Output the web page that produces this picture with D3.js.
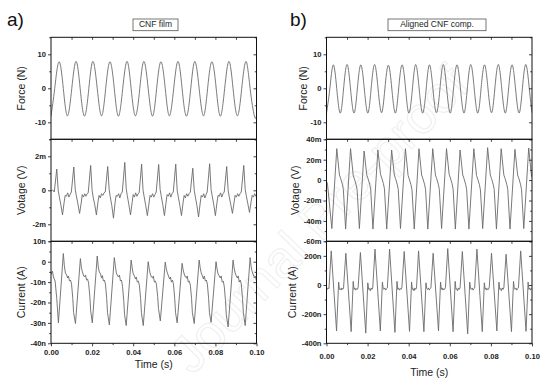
<!DOCTYPE html>
<html><head><meta charset="utf-8">
<script src="https://cdn.jsdelivr.net/npm/d3@7"></script>
<style>html,body{margin:0;padding:0;background:#fff;}svg{display:block;font-family:"Liberation Sans",Arial,sans-serif;}</style>
</head><body><svg id="c" width="554" height="383"></svg>
<script>
// ---------------- DATA ----------------
const panelTitles = ["CNF film", "Aligned CNF comp."];
const panelLetters = ["a)", "b)"];
const yLabels = ["Force (N)", "Votage (V)", "Current (A)"];
const xLabel = "Time (s)";
const xTickLabels = [0, 0.02, 0.04, 0.06, 0.08, 0.10];

// left column (CNF film)
const forceA = [[0,-8.1],[0.0018,-0.1],[0.0039,7.8],[0.0060,-0.1],[0.0080,-8.1],[0.0101,-0.1],[0.0122,7.9],[0.0142,-0.1],[0.0163,-8.2],[0.0184,-0.1],[0.0204,7.9],[0.0225,-0.1],[0.0246,-8.1],[0.0266,-0.1],[0.0287,7.8],[0.0308,-0.1],[0.0328,-8.2],[0.0349,-0.1],[0.0370,7.9],[0.0390,-0.1],[0.0411,-8.1],[0.0432,-0.1],[0.0452,7.9],[0.0473,-0.1],[0.0494,-8.2],[0.0514,-0.1],[0.0535,7.8],[0.0556,-0.1],[0.0576,-8.1],[0.0597,-0.1],[0.0618,7.9],[0.0638,-0.1],[0.0659,-8.2],[0.0680,-0.1],[0.0700,7.9],[0.0721,-0.1],[0.0742,-8.1],[0.0762,-0.1],[0.0783,7.8],[0.0804,-0.1],[0.0824,-8.2],[0.0845,-0.1],[0.0866,7.9],[0.0886,-0.1],[0.0907,-8.1],[0.0928,-0.1],[0.0949,7.9],[0.0969,-0.1],[0.0990,-8.2],[0.1,-8.0]];
// voltage in mV
const voltA = [[0,-0.05],[0.0008,0.02],[0.0016,-0.1],
[0.0028,1.25],[0.0035,0.0],[0.0040,-0.35],[0.0048,-0.85],[0.0056,-1.45],[0.0064,-0.7],[0.0069,-0.3],[0.0075,-0.35],[0.0081,-0.15],[0.0087,-0.4],[0.0093,-0.25],
[0.0099,-0.1],[0.0111,1.37],[0.0118,0.05],[0.0123,-0.3],[0.0131,-0.8],[0.0139,-1.36],[0.0147,-0.75],[0.0152,-0.25],[0.0158,-0.4],[0.0164,-0.2],[0.0170,-0.35],[0.0176,-0.2],
[0.0181,-0.15],[0.0193,1.46],[0.0200,0.0],[0.0205,-0.4],[0.0213,-0.85],[0.0221,-1.45],[0.0229,-0.65],[0.0234,-0.3],[0.0240,-0.45],[0.0246,-0.2],[0.0252,-0.3],[0.0258,-0.15],
[0.0264,-0.1],[0.0276,1.40],[0.0283,0.05],[0.0288,-0.35],[0.0296,-0.9],[0.0304,-1.64],[0.0312,-0.7],[0.0317,-0.3],[0.0323,-0.35],[0.0329,-0.2],[0.0335,-0.45],[0.0341,-0.2],
[0.0347,-0.1],[0.0359,1.64],[0.0366,0.1],[0.0371,-0.3],[0.0379,-0.85],[0.0387,-1.45],[0.0395,-0.7],[0.0400,-0.25],[0.0406,-0.4],[0.0412,-0.15],[0.0418,-0.35],[0.0424,-0.2],
[0.0429,-0.15],[0.0441,1.54],[0.0448,0.0],[0.0453,-0.35],[0.0461,-0.9],[0.0469,-1.49],[0.0477,-0.75],[0.0482,-0.3],[0.0488,-0.4],[0.0494,-0.2],[0.0500,-0.4],[0.0506,-0.25],
[0.0512,-0.1],[0.0524,1.52],[0.0531,0.05],[0.0536,-0.3],[0.0544,-0.85],[0.0552,-1.49],[0.0560,-0.7],[0.0565,-0.25],[0.0571,-0.35],[0.0577,-0.15],[0.0583,-0.4],[0.0589,-0.2],
[0.0595,-0.1],[0.0607,1.54],[0.0614,0.0],[0.0619,-0.35],[0.0627,-0.9],[0.0635,-1.49],[0.0643,-0.7],[0.0648,-0.3],[0.0654,-0.45],[0.0660,-0.2],[0.0666,-0.35],[0.0672,-0.2],
[0.0678,-0.1],[0.0690,1.30],[0.0697,0.0],[0.0702,-0.35],[0.0710,-0.9],[0.0718,-1.57],[0.0726,-0.75],[0.0731,-0.3],[0.0737,-0.4],[0.0743,-0.2],[0.0749,-0.45],[0.0755,-0.25],
[0.0760,-0.1],[0.0772,1.56],[0.0779,0.05],[0.0784,-0.3],[0.0792,-0.85],[0.0800,-1.49],[0.0808,-0.7],[0.0813,-0.3],[0.0819,-0.35],[0.0825,-0.15],[0.0831,-0.4],[0.0837,-0.2],
[0.0843,-0.1],[0.0855,1.40],[0.0862,0.0],[0.0867,-0.35],[0.0875,-0.85],[0.0883,-1.36],[0.0891,-0.7],[0.0896,-0.3],[0.0902,-0.4],[0.0908,-0.2],[0.0914,-0.35],[0.0920,-0.2],
[0.0926,-0.1],[0.0938,1.46],[0.0945,0.05],[0.0950,-0.3],[0.0958,-0.8],[0.0966,-1.30],[0.0974,-0.65],[0.0979,-0.3],[0.0985,-0.4],[0.0991,-0.2],[0.0997,-0.35],[0.1,-0.3]];
// current in nA
const currA = [[0,-6.2],[0.0007,-4.6],[0.0012,-7.5],[0.0020,-9.5],[0.0028,-18],[0.0036,-30],
[0.0060,4.0],[0.0065,-2],[0.0070,-5.5],[0.0076,-6.5],[0.0081,-8],[0.0085,-7],[0.0090,-9.5],[0.0095,-9],[0.0100,-11],[0.0106,-18],[0.0110,-25],[0.0119,-30.3],
[0.0143,1.5],[0.0148,-3],[0.0153,-5],[0.0159,-7],[0.0164,-7.5],[0.0168,-6.5],[0.0173,-9],[0.0178,-8.5],[0.0183,-10.5],[0.0189,-17],[0.0193,-24],[0.0201,-30],
[0.0225,2.8],[0.0230,-2.5],[0.0235,-5],[0.0241,-6],[0.0246,-8],[0.0250,-6.8],[0.0255,-9.5],[0.0260,-9],[0.0265,-11],[0.0271,-18],[0.0275,-25],[0.0284,-31],
[0.0308,2.0],[0.0313,-2],[0.0318,-5.5],[0.0324,-7],[0.0329,-7.5],[0.0333,-6.5],[0.0338,-9.5],[0.0343,-9],[0.0348,-12],[0.0354,-19],[0.0358,-26],[0.0366,-31.3],
[0.0390,0.8],[0.0395,-3],[0.0400,-6],[0.0406,-7],[0.0411,-8.5],[0.0415,-7.5],[0.0420,-10],[0.0425,-9.5],[0.0430,-11.5],[0.0436,-18],[0.0440,-25],[0.0449,-31.3],
[0.0473,0.0],[0.0478,-3.5],[0.0483,-6],[0.0489,-7.5],[0.0494,-8],[0.0498,-7],[0.0503,-10],[0.0508,-9.5],[0.0513,-11],[0.0519,-17],[0.0523,-23],[0.0532,-29],
[0.0556,-0.2],[0.0561,-3.5],[0.0566,-5.5],[0.0572,-7],[0.0577,-8.5],[0.0581,-7.5],[0.0586,-10],[0.0591,-9],[0.0596,-11],[0.0602,-18],[0.0606,-25],[0.0614,-30],
[0.0638,-0.8],[0.0643,-4],[0.0648,-6],[0.0654,-7.5],[0.0659,-8],[0.0663,-7],[0.0668,-10],[0.0673,-9.5],[0.0678,-11.5],[0.0684,-18],[0.0688,-25],[0.0697,-30.3],
[0.0721,0.8],[0.0726,-3],[0.0731,-5.5],[0.0737,-7],[0.0742,-8.5],[0.0746,-7],[0.0751,-9.5],[0.0756,-9],[0.0761,-11],[0.0767,-18],[0.0771,-25],[0.0779,-29.7],
[0.0803,0.0],[0.0808,-3.5],[0.0813,-6],[0.0819,-7],[0.0824,-8],[0.0828,-7],[0.0833,-10],[0.0838,-9.5],[0.0843,-12],[0.0849,-19],[0.0853,-26],[0.0862,-32],
[0.0886,0.8],[0.0891,-3],[0.0896,-5.5],[0.0902,-7],[0.0907,-8],[0.0911,-7],[0.0916,-10],[0.0921,-9],[0.0926,-11],[0.0932,-18],[0.0936,-25],[0.0945,-31.3],
[0.0969,2.0],[0.0974,-2.5],[0.0979,-5],[0.0985,-6.5],[0.0990,-8],[0.0994,-7],[0.1,-9.5]];

// right column (Aligned CNF composite)
const forceB = [[0,-7.3],[0.0016,-0.2],[0.0033,6.9],[0.0050,-0.2],[0.0067,-7.3],[0.0083,-0.2],[0.0100,7.0],[0.0117,-0.2],[0.0134,-7.3],[0.0150,-0.2],[0.0167,6.9],[0.0184,-0.2],[0.0201,-7.3],[0.0217,-0.2],[0.0234,7.0],[0.0251,-0.2],[0.0268,-7.2],[0.0284,-0.2],[0.0301,6.8],[0.0318,-0.2],[0.0335,-7.3],[0.0351,-0.2],[0.0368,6.9],[0.0385,-0.2],[0.0401,-7.3],[0.0418,-0.2],[0.0434,7.0],[0.0451,-0.2],[0.0468,-7.3],[0.0485,-0.2],[0.0501,6.9],[0.0518,-0.2],[0.0535,-7.2],[0.0552,-0.2],[0.0568,7.0],[0.0585,-0.2],[0.0602,-7.3],[0.0618,-0.2],[0.0635,6.9],[0.0652,-0.2],[0.0669,-7.3],[0.0685,-0.2],[0.0702,7.0],[0.0719,-0.2],[0.0736,-7.3],[0.0752,-0.2],[0.0769,6.9],[0.0786,-0.2],[0.0803,-7.2],[0.0819,-0.2],[0.0836,7.0],[0.0853,-0.2],[0.0870,-7.3],[0.0886,-0.2],[0.0903,6.9],[0.0920,-0.2],[0.0937,-7.3],[0.0953,-0.2],[0.0970,7.0],[0.0987,-0.2],[0.1,-7.2]];
const voltB = [[0,-1],[0.0005,-4],[0.0026,-47.5],
[0.0050,30.8],[0.0063,5],[0.0069,1.5],[0.0077,-4],[0.0082,-9],[0.0093,-48],
[0.0117,30.8],[0.0130,4.5],[0.0136,1],[0.0144,-4.5],[0.0149,-9.5],[0.0160,-47.5],
[0.0183,28.5],[0.0196,5],[0.0202,1.5],[0.0210,-4],[0.0215,-9],[0.0226,-48],
[0.0250,29.5],[0.0263,5.5],[0.0269,2],[0.0277,-3.5],[0.0282,-8.5],[0.0293,-48],
[0.0317,29.5],[0.0330,5],[0.0336,1.5],[0.0344,-4],[0.0349,-9],[0.0360,-47.5],
[0.0384,30.8],[0.0397,4.5],[0.0403,1],[0.0411,-4.5],[0.0416,-9.5],[0.0427,-48],
[0.0450,30.8],[0.0463,5],[0.0469,1.5],[0.0477,-4],[0.0482,-9],[0.0493,-48],
[0.0517,30.8],[0.0530,5],[0.0536,1.5],[0.0544,-4],[0.0549,-9],[0.0560,-47.5],
[0.0584,30.8],[0.0597,5.5],[0.0603,2],[0.0611,-3.5],[0.0616,-8.5],[0.0627,-48],
[0.0650,29.5],[0.0663,5],[0.0669,1.5],[0.0677,-4],[0.0682,-9],[0.0693,-48],
[0.0717,30.8],[0.0730,4.5],[0.0736,1],[0.0744,-4.5],[0.0749,-9.5],[0.0760,-47.5],
[0.0784,31.8],[0.0797,5],[0.0803,1.5],[0.0811,-4],[0.0816,-9],[0.0827,-48],
[0.0850,30.8],[0.0863,5],[0.0869,1.5],[0.0877,-4],[0.0882,-9],[0.0893,-48],
[0.0917,30.2],[0.0930,5],[0.0936,1.5],[0.0944,-4],[0.0949,-9],[0.0960,-47.5],
[0.0984,31.5],[0.0997,5],[0.1,3]];
const currB = [[0,-15],[0.0004,-30],[0.0008,-20],[0.0012,-25],
[0.0023,234],[0.0049,-315],[0.0059,20],[0.0063,-30],[0.0067,-25],[0.0071,-35],[0.0075,-20],[0.0079,-30],[0.0083,-20],
[0.0094,218],[0.0120,-320],[0.0130,25],[0.0134,-30],[0.0138,-20],[0.0142,-35],[0.0146,-25],[0.0150,-30],[0.0154,-15],
[0.0165,223],[0.0191,-330],[0.0201,15],[0.0205,-30],[0.0209,-25],[0.0213,-40],[0.0217,-20],[0.0221,-30],[0.0225,-20],
[0.0236,246],[0.0262,-315],[0.0272,20],[0.0276,-25],[0.0280,-30],[0.0284,-20],[0.0288,-35],[0.0292,-25],[0.0296,-20],
[0.0307,246],[0.0333,-325],[0.0343,25],[0.0347,-30],[0.0351,-20],[0.0355,-35],[0.0359,-25],[0.0363,-30],[0.0367,-15],
[0.0378,230],[0.0404,-318],[0.0414,20],[0.0418,-30],[0.0422,-25],[0.0426,-40],[0.0430,-20],[0.0434,-30],[0.0438,-20],
[0.0448,234],[0.0474,-320],[0.0484,15],[0.0488,-25],[0.0492,-30],[0.0496,-20],[0.0500,-35],[0.0504,-25],[0.0508,-20],
[0.0519,218],[0.0545,-315],[0.0555,20],[0.0559,-30],[0.0563,-20],[0.0567,-35],[0.0571,-25],[0.0575,-30],[0.0579,-15],
[0.0590,250],[0.0616,-320],[0.0626,25],[0.0630,-30],[0.0634,-25],[0.0638,-40],[0.0642,-20],[0.0646,-30],[0.0650,-20],
[0.0661,230],[0.0687,-335],[0.0697,20],[0.0701,-25],[0.0705,-30],[0.0709,-20],[0.0713,-35],[0.0717,-25],[0.0721,-20],
[0.0732,246],[0.0758,-320],[0.0768,15],[0.0772,-30],[0.0776,-20],[0.0780,-35],[0.0784,-25],[0.0788,-30],[0.0792,-15],
[0.0803,218],[0.0829,-315],[0.0839,20],[0.0843,-30],[0.0847,-25],[0.0851,-40],[0.0855,-20],[0.0859,-30],[0.0863,-20],
[0.0874,211],[0.0900,-320],[0.0910,25],[0.0914,-25],[0.0918,-30],[0.0922,-20],[0.0926,-35],[0.0930,-25],[0.0934,-20],
[0.0945,234],[0.0971,-318],[0.0981,20],[0.0985,-30],[0.0989,-20],[0.0993,-35],[0.0997,-25],[0.1,-30]];

// axis domains / tick labels (per column, per row)
const yDomains = [[[-15,15],[-3,3],[-40,10]], [[-15,15],[-60,40],[-400,300]]];
const yMajor = [[[-10,0,10],[-2,0,2],[-40,-30,-20,-10,0,10]], [[-10,0,10],[-60,-40,-20,0,20,40],[-400,-200,0,200]]];
const yMinor = [[[-15,-5,5,15],[-3,-1,1,3],[-35,-25,-15,-5,5]], [[-15,-5,5,15],[-50,-30,-10,10,30],[-300,-100,100,300]]];
const ySuffix = ["", "m", "n"];
const series = [[forceA, voltA, currA], [forceB, voltB, currB]];

// ---------------- LAYOUT ----------------
const cols = [{x0:51, x1:256.5, ylab:22, title:[155.5,25], box:[133,19,45,11.7], letter:[7,26], xlabY:[355,368]},
              {x0:326.5, x1:532, ylab:[304,296,293], title:[437,25], box:[388,19,98,11.7], letter:[290,26], xlabY:[359,376]}];
const rows = [{y0:37.3, y1:139.3}, {y0:139.3, y1:241.3}, {y0:241.3, y1:343.3}];

const svg = d3.select("#c");
const defs = svg.append("defs");

// faint watermark, drawn underneath everything
svg.append("text").attr("transform", "translate(322,222) rotate(-46)")
  .attr("text-anchor", "middle").attr("dominant-baseline", "middle")
  .attr("font-size", 52).attr("fill", "none").attr("stroke", "#f0f0f0").attr("stroke-width", 1.2)
  .text("Journal Pre-proof");

cols.forEach((c, ci) => {
  const x = d3.scaleLinear().domain([0, 0.1]).range([c.x0, c.x1]);
  const g = svg.append("g");
  rows.forEach((r, ri) => {
    const y = d3.scaleLinear().domain(yDomains[ci][ri]).range([r.y1, r.y0]);
    const cid = "clip" + ci + ri;
    defs.append("clipPath").attr("id", cid).append("rect")
      .attr("x", c.x0).attr("y", r.y0).attr("width", c.x1 - c.x0).attr("height", r.y1 - r.y0);
    const line = d3.line().x(d => x(d[0])).y(d => y(d[1]))
      .curve(ri === 0 ? d3.curveNatural : d3.curveLinear);
    g.append("path").datum(series[ci][ri]).attr("d", line)
      .attr("clip-path", `url(#${cid})`)
      .attr("fill", "none").attr("stroke", "#6a6a6a").attr("stroke-width", 0.9);

    const fmt = v => v === 0 ? "0" : (v + ySuffix[ri]);
    const la = g.append("g").attr("transform", `translate(${c.x0},0)`)
      .call(d3.axisLeft(y).tickValues(yMajor[ci][ri]).tickSize(3).tickPadding(2).tickFormat(fmt));
    la.select(".domain").remove();
    la.selectAll("text").attr("font-size", 7.6).attr("fill", "#222").attr("font-family", "Liberation Sans, Arial, sans-serif").attr("font-weight", "bold");
    const lm = g.append("g").attr("transform", `translate(${c.x0},0)`)
      .call(d3.axisLeft(y).tickValues(yMinor[ci][ri]).tickSize(1.8).tickFormat(""));
    lm.select(".domain").remove();
    const ra = g.append("g").attr("transform", `translate(${c.x1},0)`)
      .call(d3.axisRight(y).tickValues(yMajor[ci][ri]).tickSize(-3).tickFormat(""));
    ra.select(".domain").remove();
    const rm = g.append("g").attr("transform", `translate(${c.x1},0)`)
      .call(d3.axisRight(y).tickValues(yMinor[ci][ri]).tickSize(-1.8).tickFormat(""));
    rm.select(".domain").remove();
    const ta = g.append("g").attr("transform", `translate(0,${r.y0})`)
      .call(d3.axisTop(x).tickValues([0.01,0.02,0.03,0.04,0.05,0.06,0.07,0.08,0.09]).tickSize(-2.5).tickFormat(""));
    ta.select(".domain").remove();
    g.append("rect").attr("x", c.x0).attr("y", r.y0).attr("width", c.x1 - c.x0).attr("height", r.y1 - r.y0)
      .attr("fill", "none").attr("stroke", "#111").attr("stroke-width", 1);
    const lx = Array.isArray(c.ylab) ? c.ylab[ri] : c.ylab;
    g.append("text").attr("transform", `translate(${lx},${(r.y0 + r.y1) / 2}) rotate(-90)`)
      .attr("text-anchor", "middle").attr("dominant-baseline", "middle")
      .attr("font-size", 10.5).attr("fill", "#222").text(yLabels[ri]);
  });
  const yb = rows[2].y1;
  const ba = g.append("g").attr("transform", `translate(0,${yb})`)
    .call(d3.axisBottom(x).tickValues(xTickLabels).tickSize(3).tickFormat(d3.format(".2f")));
  ba.select(".domain").remove();
  ba.selectAll("text").attr("font-size", 7.6).attr("fill", "#222").attr("font-weight", "bold")
    .attr("y", null).attr("dy", null)
    .attr("transform", `translate(0,${c.xlabY[0] - yb})`);
  const bm = g.append("g").attr("transform", `translate(0,${yb})`)
    .call(d3.axisBottom(x).tickValues([0.01,0.03,0.05,0.07,0.09]).tickSize(1.8).tickFormat(""));
  bm.select(".domain").remove();
  g.append("text").attr("x", (c.x0 + c.x1) / 2).attr("y", c.xlabY[1]).attr("text-anchor", "middle")
    .attr("font-size", 10.5).attr("fill", "#222").text(xLabel);
  g.append("rect").attr("x", c.box[0]).attr("y", c.box[1]).attr("width", c.box[2]).attr("height", c.box[3])
    .attr("fill", "#fff").attr("stroke", "#555").attr("stroke-width", 0.8);
  g.append("text").attr("x", c.title[0]).attr("y", c.title[1]).attr("text-anchor", "middle")
    .attr("dominant-baseline", "middle").attr("font-size", 8.5).attr("fill", "#222").text(panelTitles[ci]);
  g.append("text").attr("x", c.letter[0]).attr("y", c.letter[1]).attr("font-size", 19).attr("fill", "#111").text(panelLetters[ci]);
});

svg.selectAll(".tick line").attr("stroke", "#111").attr("stroke-width", 0.8);
</script></body></html>
